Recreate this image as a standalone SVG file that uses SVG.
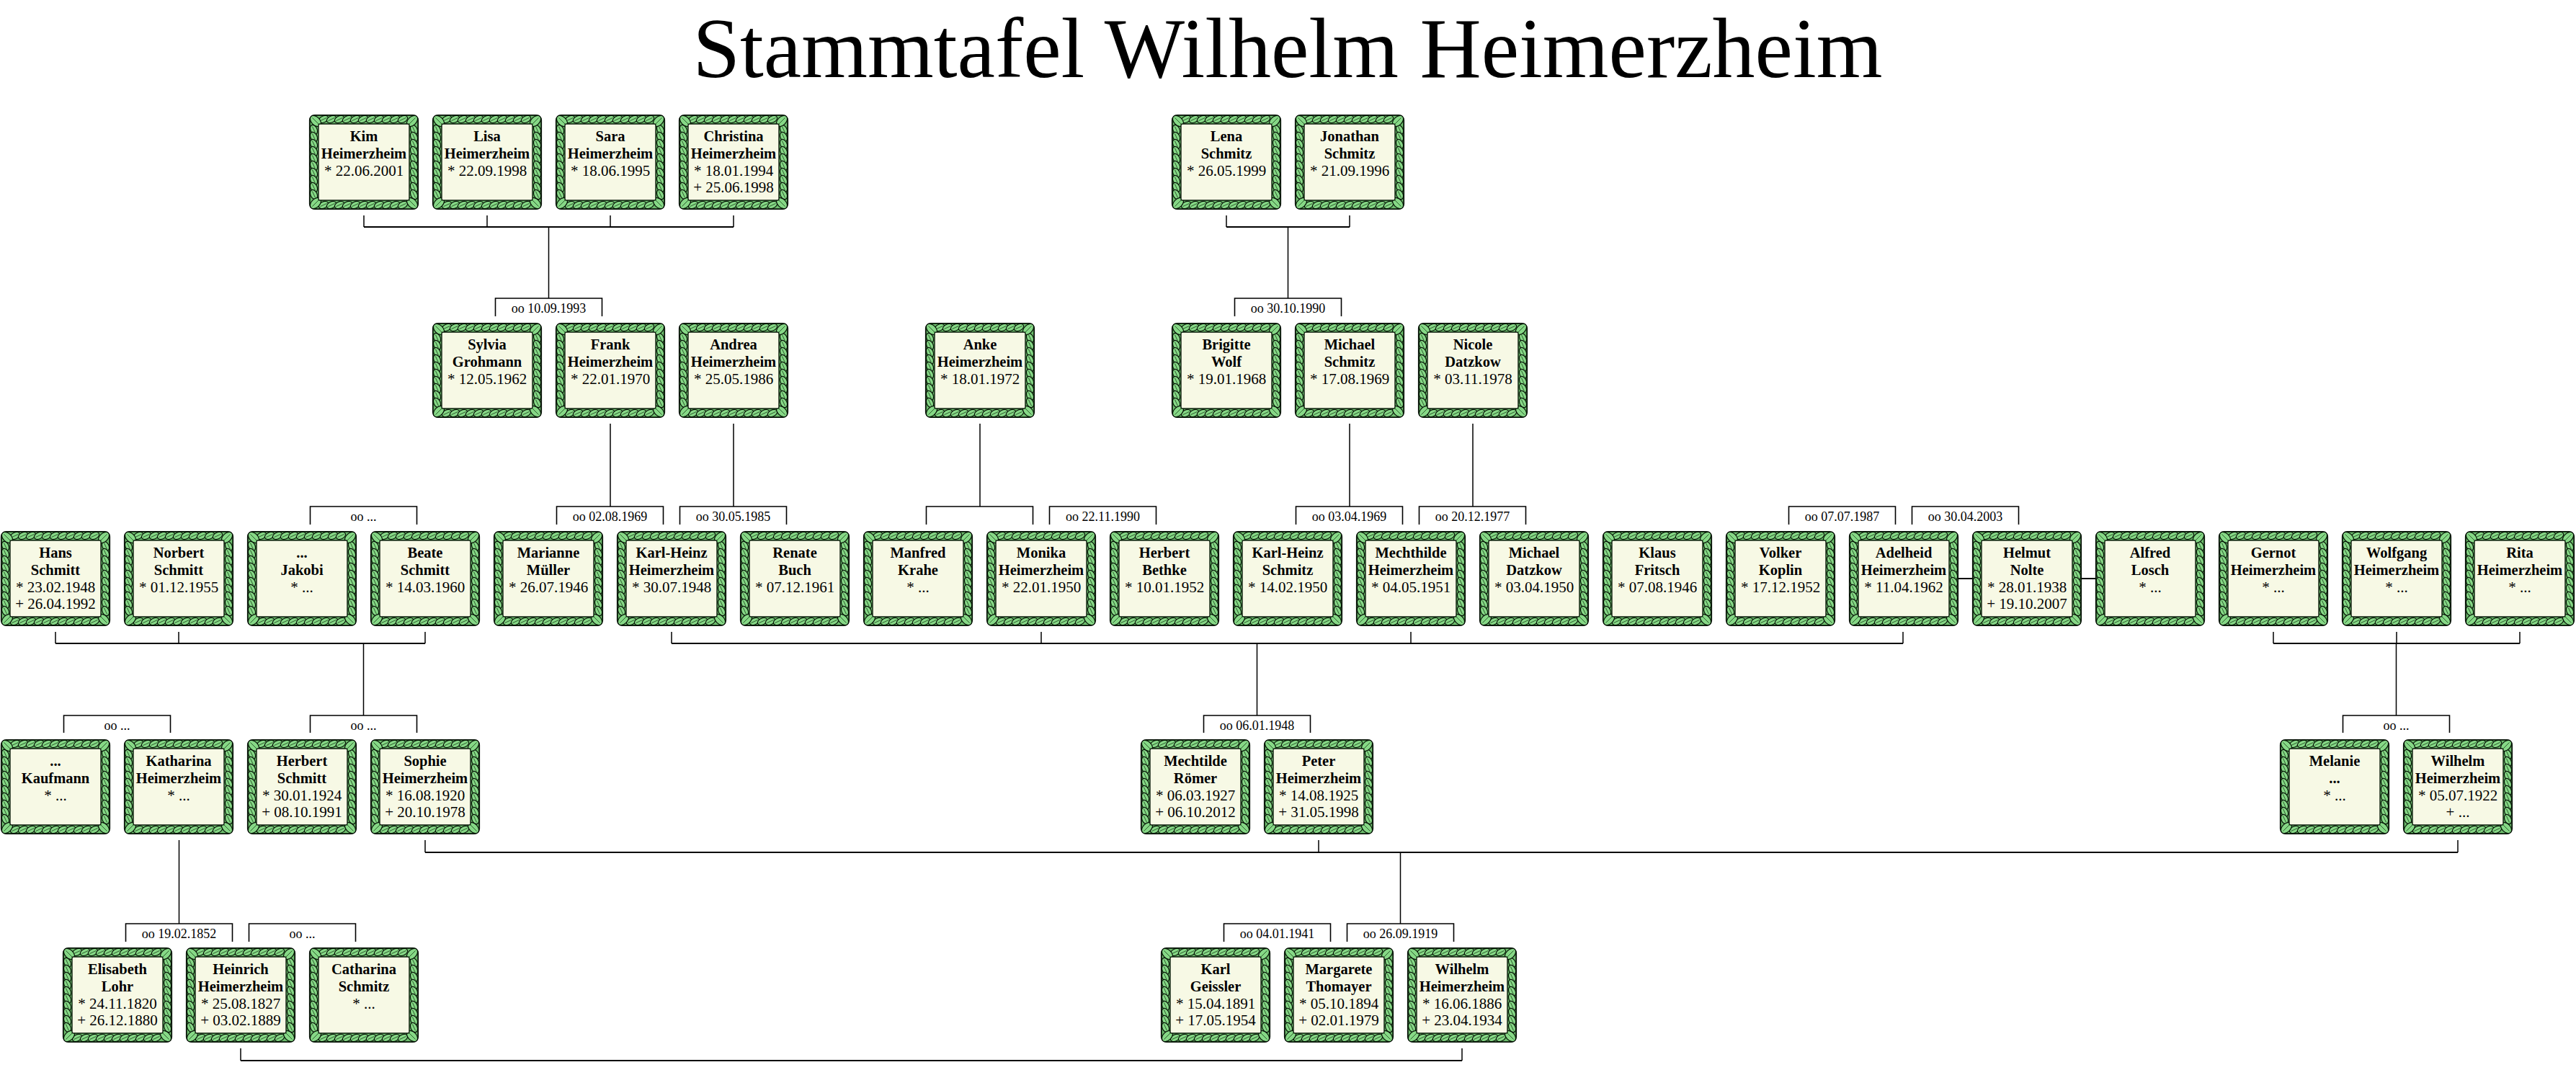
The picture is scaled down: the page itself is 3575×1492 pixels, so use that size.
<svg xmlns="http://www.w3.org/2000/svg" xmlns:xlink="http://www.w3.org/1999/xlink" width="3575" height="1492" viewBox="0 0 3575 1492">
<style>
.nm{font-family:"Liberation Serif","Times New Roman",serif;font-weight:bold;font-size:20.5px;text-anchor:middle;fill:#000}
.dt{font-family:"Liberation Serif","Times New Roman",serif;font-size:21px;text-anchor:middle;fill:#000}
.lb{font-family:"Liberation Serif","Times New Roman",serif;font-size:18px;text-anchor:middle;fill:#000}
.title{font-family:"Liberation Serif","Times New Roman",serif;font-size:118px;text-anchor:middle;fill:#000}
.bar{fill:none;stroke:#000;stroke-width:2}
.vl{fill:none;stroke:#000;stroke-width:1.5}
.fr{fill:none;stroke:#000;stroke-width:1.6}
</style>
<defs>
<g id="lf"><ellipse rx="7" ry="4.5" fill="#86d886" stroke="#061206" stroke-width="1.2"/><line x1="-5" y1="0" x2="5" y2="0" stroke="#1f4a1f" stroke-width="0.8"/></g>
<g id="lfc"><ellipse rx="9" ry="5.8" fill="#86d886" stroke="#061206" stroke-width="1.2"/><line x1="-6.5" y1="0" x2="6.5" y2="0" stroke="#1f4a1f" stroke-width="0.8"/></g>
<g id="frame">
<rect x="0.8" y="0.8" width="150.4" height="130.4" rx="7" fill="#6cbc6c" stroke="#061206" stroke-width="1.8"/>
<use href="#lf" transform="translate(20,6.5) rotate(-25)"/><use href="#lf" transform="translate(31,6.5) rotate(-25)"/><use href="#lf" transform="translate(42,6.5) rotate(-25)"/><use href="#lf" transform="translate(53,6.5) rotate(-25)"/><use href="#lf" transform="translate(64,6.5) rotate(-25)"/><use href="#lf" transform="translate(75,6.5) rotate(-25)"/><use href="#lf" transform="translate(86,6.5) rotate(-25)"/><use href="#lf" transform="translate(97,6.5) rotate(-25)"/><use href="#lf" transform="translate(108,6.5) rotate(-25)"/><use href="#lf" transform="translate(119,6.5) rotate(-25)"/><use href="#lf" transform="translate(130,6.5) rotate(-25)"/>
<use href="#lf" transform="translate(20,125.5) rotate(-25)"/><use href="#lf" transform="translate(31,125.5) rotate(-25)"/><use href="#lf" transform="translate(42,125.5) rotate(-25)"/><use href="#lf" transform="translate(53,125.5) rotate(-25)"/><use href="#lf" transform="translate(64,125.5) rotate(-25)"/><use href="#lf" transform="translate(75,125.5) rotate(-25)"/><use href="#lf" transform="translate(86,125.5) rotate(-25)"/><use href="#lf" transform="translate(97,125.5) rotate(-25)"/><use href="#lf" transform="translate(108,125.5) rotate(-25)"/><use href="#lf" transform="translate(119,125.5) rotate(-25)"/><use href="#lf" transform="translate(130,125.5) rotate(-25)"/>
<use href="#lf" transform="translate(6.5,21) rotate(65)"/><use href="#lf" transform="translate(6.5,31) rotate(65)"/><use href="#lf" transform="translate(6.5,41) rotate(65)"/><use href="#lf" transform="translate(6.5,51) rotate(65)"/><use href="#lf" transform="translate(6.5,61) rotate(65)"/><use href="#lf" transform="translate(6.5,71) rotate(65)"/><use href="#lf" transform="translate(6.5,81) rotate(65)"/><use href="#lf" transform="translate(6.5,91) rotate(65)"/><use href="#lf" transform="translate(6.5,101) rotate(65)"/><use href="#lf" transform="translate(6.5,111) rotate(65)"/>
<use href="#lf" transform="translate(145.5,21) rotate(65)"/><use href="#lf" transform="translate(145.5,31) rotate(65)"/><use href="#lf" transform="translate(145.5,41) rotate(65)"/><use href="#lf" transform="translate(145.5,51) rotate(65)"/><use href="#lf" transform="translate(145.5,61) rotate(65)"/><use href="#lf" transform="translate(145.5,71) rotate(65)"/><use href="#lf" transform="translate(145.5,81) rotate(65)"/><use href="#lf" transform="translate(145.5,91) rotate(65)"/><use href="#lf" transform="translate(145.5,101) rotate(65)"/><use href="#lf" transform="translate(145.5,111) rotate(65)"/>
<use href="#lfc" transform="translate(9,9) rotate(45)"/><use href="#lfc" transform="translate(143,9) rotate(-45)"/><use href="#lfc" transform="translate(9,123) rotate(-45)"/><use href="#lfc" transform="translate(143,123) rotate(45)"/>
<rect x="13" y="13" width="126" height="106" rx="2" fill="#f7f9e5" stroke="#0c1c0c" stroke-width="1.4"/>
</g>
</defs>
<rect width="3575" height="1492" fill="#fff"/>
<text class="title" x="1787" y="107">Stammtafel Wilhelm Heimerzheim</text>

<g id="connectors">
<path class="bar" d="M505,315H1018 M1702,315H1873 M77,893H590 M932,893H2641 M3155,893H3497 M590,1183H3411 M334,1472H2029"/>
<path class="vl" d="M505,299V315 M676,299V315 M847,299V315 M1018,299V315 M1702,299V315 M1873,299V315 M761.5,315V414 M1787.5,315V414
M847,588V703 M1018,588V703 M1360,588V703 M1873,588V703 M2044,588V703
M77,877V893 M248,877V893 M590,877V893 M932,877V893 M1445,877V893 M1958,877V893 M2641,877V893 M3155,877V893 M3326,877V893 M3497,877V893
M504.5,893V993 M1744.5,893V993 M3325.5,893V993
M248.5,1166V1282 M590,1166V1183 M1830,1166V1183 M3411,1166V1183 M1943.5,1183V1282
M334,1455V1472 M2029,1455V1472"/>
<path class="bar" d="M2717,803H2737 M2889,803H2908"/>
<path class="fr" d="M687.5,439V414H835.5V439 M1713.5,439V414H1861.5V439
M430.5,728V703H578.5V728 M772.5,728V703H920.5V728 M943.5,728V703H1091.5V728 M1285.5,728V703H1433.5V728 M1456.5,728V703H1604.5V728 M1798.5,728V703H1946.5V728 M1969.5,728V703H2117.5V728 M2482.5,728V703H2630.5V728 M2653.5,728V703H2801.5V728
M88.5,1017V993H236.5V1017 M430.5,1017V993H578.5V1017 M1670.5,1017V993H1818.5V1017 M3251.5,1017V993H3399.5V1017
M174.5,1307V1282H322.5V1307 M345.5,1307V1282H493.5V1307 M1698.5,1307V1282H1846.5V1307 M1869.5,1307V1282H2017.5V1307"/>
<text class="lb" x="761.5" y="434">oo 10.09.1993</text>
<text class="lb" x="1787.5" y="434">oo 30.10.1990</text>
<text class="lb" x="504.5" y="723">oo ...</text>
<text class="lb" x="846.5" y="723">oo 02.08.1969</text>
<text class="lb" x="1017.5" y="723">oo 30.05.1985</text>
<text class="lb" x="1530.5" y="723">oo 22.11.1990</text>
<text class="lb" x="1872.5" y="723">oo 03.04.1969</text>
<text class="lb" x="2043.5" y="723">oo 20.12.1977</text>
<text class="lb" x="2556.5" y="723">oo 07.07.1987</text>
<text class="lb" x="2727.5" y="723">oo 30.04.2003</text>
<text class="lb" x="162.5" y="1013">oo ...</text>
<text class="lb" x="504.5" y="1013">oo ...</text>
<text class="lb" x="1744.5" y="1013">oo 06.01.1948</text>
<text class="lb" x="3325.5" y="1013">oo ...</text>
<text class="lb" x="248.5" y="1302">oo 19.02.1852</text>
<text class="lb" x="419.5" y="1302">oo ...</text>
<text class="lb" x="1772.5" y="1302">oo 04.01.1941</text>
<text class="lb" x="1943.5" y="1302">oo 26.09.1919</text>
</g>

<g id="n-kim" transform="translate(429,159)"><use href="#frame"/><text class="nm" x="76" y="37">Kim</text><text class="nm" x="76" y="61">Heimerzheim</text><text class="dt" x="76" y="85">* 22.06.2001</text></g>
<g id="n-lisa" transform="translate(600,159)"><use href="#frame"/><text class="nm" x="76" y="37">Lisa</text><text class="nm" x="76" y="61">Heimerzheim</text><text class="dt" x="76" y="85">* 22.09.1998</text></g>
<g id="n-sara" transform="translate(771,159)"><use href="#frame"/><text class="nm" x="76" y="37">Sara</text><text class="nm" x="76" y="61">Heimerzheim</text><text class="dt" x="76" y="85">* 18.06.1995</text></g>
<g id="n-christina" transform="translate(942,159)"><use href="#frame"/><text class="nm" x="76" y="37">Christina</text><text class="nm" x="76" y="61">Heimerzheim</text><text class="dt" x="76" y="85">* 18.01.1994</text><text class="dt" x="76" y="108">+ 25.06.1998</text></g>
<g id="n-lena" transform="translate(1626,159)"><use href="#frame"/><text class="nm" x="76" y="37">Lena</text><text class="nm" x="76" y="61">Schmitz</text><text class="dt" x="76" y="85">* 26.05.1999</text></g>
<g id="n-jonathan" transform="translate(1797,159)"><use href="#frame"/><text class="nm" x="76" y="37">Jonathan</text><text class="nm" x="76" y="61">Schmitz</text><text class="dt" x="76" y="85">* 21.09.1996</text></g>

<g id="n-sylvia" transform="translate(600,448)"><use href="#frame"/><text class="nm" x="76" y="37">Sylvia</text><text class="nm" x="76" y="61">Grohmann</text><text class="dt" x="76" y="85">* 12.05.1962</text></g>
<g id="n-frank" transform="translate(771,448)"><use href="#frame"/><text class="nm" x="76" y="37">Frank</text><text class="nm" x="76" y="61">Heimerzheim</text><text class="dt" x="76" y="85">* 22.01.1970</text></g>
<g id="n-andrea" transform="translate(942,448)"><use href="#frame"/><text class="nm" x="76" y="37">Andrea</text><text class="nm" x="76" y="61">Heimerzheim</text><text class="dt" x="76" y="85">* 25.05.1986</text></g>
<g id="n-anke" transform="translate(1284,448)"><use href="#frame"/><text class="nm" x="76" y="37">Anke</text><text class="nm" x="76" y="61">Heimerzheim</text><text class="dt" x="76" y="85">* 18.01.1972</text></g>
<g id="n-brigitte" transform="translate(1626,448)"><use href="#frame"/><text class="nm" x="76" y="37">Brigitte</text><text class="nm" x="76" y="61">Wolf</text><text class="dt" x="76" y="85">* 19.01.1968</text></g>
<g id="n-michael-s" transform="translate(1797,448)"><use href="#frame"/><text class="nm" x="76" y="37">Michael</text><text class="nm" x="76" y="61">Schmitz</text><text class="dt" x="76" y="85">* 17.08.1969</text></g>
<g id="n-nicole" transform="translate(1968,448)"><use href="#frame"/><text class="nm" x="76" y="37">Nicole</text><text class="nm" x="76" y="61">Datzkow</text><text class="dt" x="76" y="85">* 03.11.1978</text></g>

<g id="n-hans" transform="translate(1,737)"><use href="#frame"/><text class="nm" x="76" y="37">Hans</text><text class="nm" x="76" y="61">Schmitt</text><text class="dt" x="76" y="85">* 23.02.1948</text><text class="dt" x="76" y="108">+ 26.04.1992</text></g>
<g id="n-norbert" transform="translate(172,737)"><use href="#frame"/><text class="nm" x="76" y="37">Norbert</text><text class="nm" x="76" y="61">Schmitt</text><text class="dt" x="76" y="85">* 01.12.1955</text></g>
<g id="n-jakobi" transform="translate(343,737)"><use href="#frame"/><text class="nm" x="76" y="37">...</text><text class="nm" x="76" y="61">Jakobi</text><text class="dt" x="76" y="85">* ...</text></g>
<g id="n-beate" transform="translate(514,737)"><use href="#frame"/><text class="nm" x="76" y="37">Beate</text><text class="nm" x="76" y="61">Schmitt</text><text class="dt" x="76" y="85">* 14.03.1960</text></g>
<g id="n-marianne" transform="translate(685,737)"><use href="#frame"/><text class="nm" x="76" y="37">Marianne</text><text class="nm" x="76" y="61">Müller</text><text class="dt" x="76" y="85">* 26.07.1946</text></g>
<g id="n-karlheinz-h" transform="translate(856,737)"><use href="#frame"/><text class="nm" x="76" y="37">Karl-Heinz</text><text class="nm" x="76" y="61">Heimerzheim</text><text class="dt" x="76" y="85">* 30.07.1948</text></g>
<g id="n-renate" transform="translate(1027,737)"><use href="#frame"/><text class="nm" x="76" y="37">Renate</text><text class="nm" x="76" y="61">Buch</text><text class="dt" x="76" y="85">* 07.12.1961</text></g>
<g id="n-manfred" transform="translate(1198,737)"><use href="#frame"/><text class="nm" x="76" y="37">Manfred</text><text class="nm" x="76" y="61">Krahe</text><text class="dt" x="76" y="85">* ...</text></g>
<g id="n-monika" transform="translate(1369,737)"><use href="#frame"/><text class="nm" x="76" y="37">Monika</text><text class="nm" x="76" y="61">Heimerzheim</text><text class="dt" x="76" y="85">* 22.01.1950</text></g>
<g id="n-herbert-b" transform="translate(1540,737)"><use href="#frame"/><text class="nm" x="76" y="37">Herbert</text><text class="nm" x="76" y="61">Bethke</text><text class="dt" x="76" y="85">* 10.01.1952</text></g>
<g id="n-karlheinz-s" transform="translate(1711,737)"><use href="#frame"/><text class="nm" x="76" y="37">Karl-Heinz</text><text class="nm" x="76" y="61">Schmitz</text><text class="dt" x="76" y="85">* 14.02.1950</text></g>
<g id="n-mechthilde" transform="translate(1882,737)"><use href="#frame"/><text class="nm" x="76" y="37">Mechthilde</text><text class="nm" x="76" y="61">Heimerzheim</text><text class="dt" x="76" y="85">* 04.05.1951</text></g>
<g id="n-michael-d" transform="translate(2053,737)"><use href="#frame"/><text class="nm" x="76" y="37">Michael</text><text class="nm" x="76" y="61">Datzkow</text><text class="dt" x="76" y="85">* 03.04.1950</text></g>
<g id="n-klaus" transform="translate(2224,737)"><use href="#frame"/><text class="nm" x="76" y="37">Klaus</text><text class="nm" x="76" y="61">Fritsch</text><text class="dt" x="76" y="85">* 07.08.1946</text></g>
<g id="n-volker" transform="translate(2395,737)"><use href="#frame"/><text class="nm" x="76" y="37">Volker</text><text class="nm" x="76" y="61">Koplin</text><text class="dt" x="76" y="85">* 17.12.1952</text></g>
<g id="n-adelheid" transform="translate(2566,737)"><use href="#frame"/><text class="nm" x="76" y="37">Adelheid</text><text class="nm" x="76" y="61">Heimerzheim</text><text class="dt" x="76" y="85">* 11.04.1962</text></g>
<g id="n-helmut" transform="translate(2737,737)"><use href="#frame"/><text class="nm" x="76" y="37">Helmut</text><text class="nm" x="76" y="61">Nolte</text><text class="dt" x="76" y="85">* 28.01.1938</text><text class="dt" x="76" y="108">+ 19.10.2007</text></g>
<g id="n-alfred" transform="translate(2908,737)"><use href="#frame"/><text class="nm" x="76" y="37">Alfred</text><text class="nm" x="76" y="61">Losch</text><text class="dt" x="76" y="85">* ...</text></g>
<g id="n-gernot" transform="translate(3079,737)"><use href="#frame"/><text class="nm" x="76" y="37">Gernot</text><text class="nm" x="76" y="61">Heimerzheim</text><text class="dt" x="76" y="85">* ...</text></g>
<g id="n-wolfgang" transform="translate(3250,737)"><use href="#frame"/><text class="nm" x="76" y="37">Wolfgang</text><text class="nm" x="76" y="61">Heimerzheim</text><text class="dt" x="76" y="85">* ...</text></g>
<g id="n-rita" transform="translate(3421,737)"><use href="#frame"/><text class="nm" x="76" y="37">Rita</text><text class="nm" x="76" y="61">Heimerzheim</text><text class="dt" x="76" y="85">* ...</text></g>

<g id="n-kaufmann" transform="translate(1,1026)"><use href="#frame"/><text class="nm" x="76" y="37">...</text><text class="nm" x="76" y="61">Kaufmann</text><text class="dt" x="76" y="85">* ...</text></g>
<g id="n-katharina" transform="translate(172,1026)"><use href="#frame"/><text class="nm" x="76" y="37">Katharina</text><text class="nm" x="76" y="61">Heimerzheim</text><text class="dt" x="76" y="85">* ...</text></g>
<g id="n-herbert-s" transform="translate(343,1026)"><use href="#frame"/><text class="nm" x="76" y="37">Herbert</text><text class="nm" x="76" y="61">Schmitt</text><text class="dt" x="76" y="85">* 30.01.1924</text><text class="dt" x="76" y="108">+ 08.10.1991</text></g>
<g id="n-sophie" transform="translate(514,1026)"><use href="#frame"/><text class="nm" x="76" y="37">Sophie</text><text class="nm" x="76" y="61">Heimerzheim</text><text class="dt" x="76" y="85">* 16.08.1920</text><text class="dt" x="76" y="108">+ 20.10.1978</text></g>
<g id="n-mechtilde-r" transform="translate(1583,1026)"><use href="#frame"/><text class="nm" x="76" y="37">Mechtilde</text><text class="nm" x="76" y="61">Römer</text><text class="dt" x="76" y="85">* 06.03.1927</text><text class="dt" x="76" y="108">+ 06.10.2012</text></g>
<g id="n-peter" transform="translate(1754,1026)"><use href="#frame"/><text class="nm" x="76" y="37">Peter</text><text class="nm" x="76" y="61">Heimerzheim</text><text class="dt" x="76" y="85">* 14.08.1925</text><text class="dt" x="76" y="108">+ 31.05.1998</text></g>
<g id="n-melanie" transform="translate(3164,1026)"><use href="#frame"/><text class="nm" x="76" y="37">Melanie</text><text class="nm" x="76" y="61">...</text><text class="dt" x="76" y="85">* ...</text></g>
<g id="n-wilhelm-1922" transform="translate(3335,1026)"><use href="#frame"/><text class="nm" x="76" y="37">Wilhelm</text><text class="nm" x="76" y="61">Heimerzheim</text><text class="dt" x="76" y="85">* 05.07.1922</text><text class="dt" x="76" y="108">+ ...</text></g>

<g id="n-elisabeth" transform="translate(87,1315)"><use href="#frame"/><text class="nm" x="76" y="37">Elisabeth</text><text class="nm" x="76" y="61">Lohr</text><text class="dt" x="76" y="85">* 24.11.1820</text><text class="dt" x="76" y="108">+ 26.12.1880</text></g>
<g id="n-heinrich" transform="translate(258,1315)"><use href="#frame"/><text class="nm" x="76" y="37">Heinrich</text><text class="nm" x="76" y="61">Heimerzheim</text><text class="dt" x="76" y="85">* 25.08.1827</text><text class="dt" x="76" y="108">+ 03.02.1889</text></g>
<g id="n-catharina" transform="translate(429,1315)"><use href="#frame"/><text class="nm" x="76" y="37">Catharina</text><text class="nm" x="76" y="61">Schmitz</text><text class="dt" x="76" y="85">* ...</text></g>
<g id="n-karl" transform="translate(1611,1315)"><use href="#frame"/><text class="nm" x="76" y="37">Karl</text><text class="nm" x="76" y="61">Geissler</text><text class="dt" x="76" y="85">* 15.04.1891</text><text class="dt" x="76" y="108">+ 17.05.1954</text></g>
<g id="n-margarete" transform="translate(1782,1315)"><use href="#frame"/><text class="nm" x="76" y="37">Margarete</text><text class="nm" x="76" y="61">Thomayer</text><text class="dt" x="76" y="85">* 05.10.1894</text><text class="dt" x="76" y="108">+ 02.01.1979</text></g>
<g id="n-wilhelm-1886" transform="translate(1953,1315)"><use href="#frame"/><text class="nm" x="76" y="37">Wilhelm</text><text class="nm" x="76" y="61">Heimerzheim</text><text class="dt" x="76" y="85">* 16.06.1886</text><text class="dt" x="76" y="108">+ 23.04.1934</text></g>
</svg>
